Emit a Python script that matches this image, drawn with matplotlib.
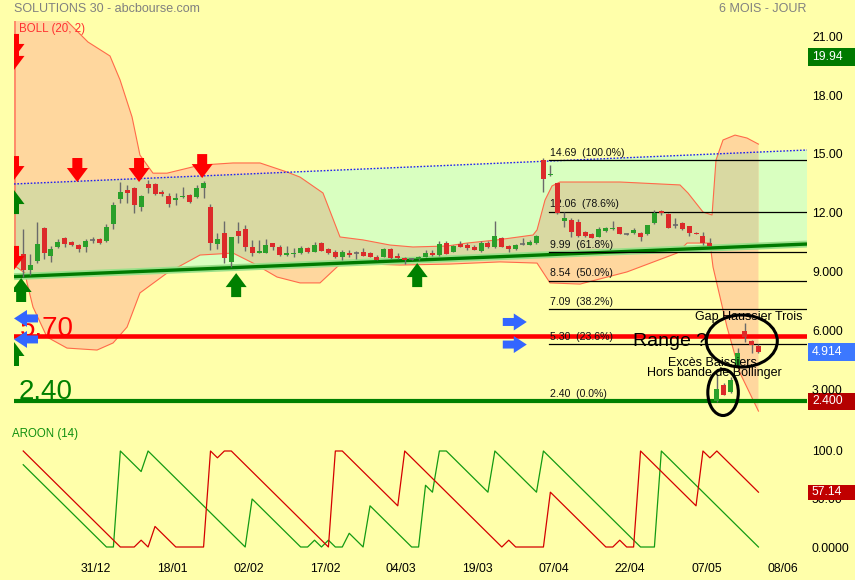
import numpy as np
import matplotlib.pyplot as plt
from matplotlib.patches import Polygon, Ellipse, Rectangle
from matplotlib.transforms import ScaledTranslation, blended_transform_factory

plt.rcParams['font.family'] = ['Liberation Sans', 'DejaVu Sans']

# daily candles, bar 0 = 15/12
opens = [9.90, 9.09, 9.56, 11.21, 9.80, 10.28, 10.70, 10.49, 10.36, 10.24,
         10.62, 10.65, 10.58, 11.43, 12.69, 13.16, 13.25, 12.32, 13.47, 13.47,
         13.08, 12.86, 12.65, 12.79, 12.91, 12.82, 13.28, 12.28, 10.43, 10.95,
         9.51, 11.07, 11.16, 10.24, 9.94, 9.97, 10.45, 10.24, 9.84, 9.92,
         9.94, 10.19, 10.02, 10.45, 10.14, 10.02, 9.73, 9.97, 9.93, 10.02,
         9.94, 9.73, 9.77, 10.16, 9.80, 9.71, 9.66, 9.63, 9.77, 9.97,
         9.84, 10.45, 10.00, 10.40, 10.36, 10.27, 10.07, 10.45, 10.24, 10.70,
         10.31, 10.14, 10.40, 10.36, 10.45, 14.69, 13.95, 13.50, 11.58, 11.63,
         11.55, 11.01, 10.91, 10.78, 11.09, 11.16, 11.26, 10.92, 10.96, 10.96,
         10.91, 11.47, 12.11, 11.93, 11.40, 11.50, 11.33, 10.99, 10.83, 10.45,
         2.40, 3.23, 2.86, 4.16, 5.98, 5.49, 5.21]
highs = [11.16, 9.90, 11.55, 11.26, 10.31, 10.65, 10.78, 10.55, 10.40, 10.67,
         10.75, 10.70, 11.43, 12.55, 13.59, 13.42, 13.33, 12.90, 13.67, 13.50,
         13.15, 13.00, 13.00, 13.30, 12.95, 13.40, 13.60, 12.45, 10.95, 11.58,
         10.75, 11.55, 11.38, 10.62, 10.62, 10.65, 10.45, 10.36, 10.31, 10.19,
         10.31, 10.25, 10.53, 10.50, 10.20, 10.10, 10.10, 10.10, 10.06, 10.19,
         10.02, 9.85, 10.19, 10.19, 9.94, 9.75, 9.72, 9.78, 10.10, 10.10,
         10.54, 10.59, 10.35, 10.58, 10.45, 10.36, 10.54, 10.54, 11.57, 10.75,
         10.36, 10.40, 10.70, 10.62, 10.87, 14.78, 14.43, 13.52, 12.06, 11.72,
         11.68, 11.05, 10.95, 11.26, 11.26, 11.60, 11.30, 10.96, 11.21, 11.00,
         11.40, 12.14, 12.16, 11.98, 11.72, 11.52, 11.35, 11.04, 11.01, 10.73,
         3.83, 3.35, 3.62, 5.10, 6.40, 5.52, 5.32]
lows = [8.75, 8.83, 9.43, 9.63, 9.51, 10.20, 10.24, 10.30, 10.02, 10.02,
        10.44, 10.40, 10.53, 11.16, 12.51, 12.52, 11.97, 12.11, 13.00, 12.90,
        12.86, 12.31, 12.40, 12.77, 12.52, 12.78, 12.74, 10.11, 10.16, 9.46,
        9.26, 10.48, 10.06, 9.80, 9.94, 9.95, 10.11, 9.80, 9.80, 9.77,
        9.90, 9.95, 10.00, 10.05, 9.90, 9.70, 9.60, 9.75, 9.63, 9.80,
        9.75, 9.61, 9.75, 9.63, 9.66, 9.39, 9.58, 9.60, 9.75, 9.82,
        9.82, 9.88, 9.98, 10.24, 10.10, 10.09, 10.02, 10.22, 10.22, 10.25,
        10.02, 10.10, 10.38, 10.34, 10.43, 13.08, 13.87, 11.96, 11.26, 10.75,
        10.75, 10.75, 10.70, 10.76, 11.04, 11.12, 10.90, 10.86, 10.94, 10.58,
        10.89, 11.45, 11.90, 11.22, 11.21, 11.14, 10.83, 10.90, 10.36, 10.29,
        2.38, 2.70, 2.84, 4.14, 5.40, 4.84, 4.84]
closes = [9.09, 9.34, 10.41, 9.94, 10.14, 10.51, 10.41, 10.35, 10.17, 10.56,
          10.63, 10.45, 11.26, 12.40, 13.05, 13.02, 12.40, 12.86, 13.25, 12.94,
          12.94, 12.44, 12.77, 12.87, 12.57, 13.25, 13.50, 10.48, 10.67, 9.68,
          10.75, 10.83, 10.24, 9.97, 10.07, 10.36, 10.24, 9.84, 9.97, 9.97,
          10.21, 10.02, 10.36, 10.07, 9.94, 9.73, 10.02, 9.84, 9.95, 9.82,
          9.77, 9.60, 10.14, 9.68, 9.68, 9.60, 9.64, 9.73, 9.97, 9.84,
          10.40, 9.90, 10.31, 10.26, 10.19, 10.11, 10.45, 10.24, 10.82, 10.27,
          10.14, 10.36, 10.42, 10.53, 10.82, 13.71, 13.99, 12.00, 11.72, 11.04,
          10.83, 10.83, 10.73, 11.16, 11.21, 11.21, 10.92, 10.90, 11.12, 10.78,
          11.38, 11.98, 11.98, 11.24, 11.37, 11.16, 10.99, 10.92, 10.48, 10.31,
          3.01, 2.72, 3.48, 4.87, 5.66, 5.27, 4.914]

date_labels = ['31/12', '18/01', '02/02', '17/02', '04/03', '19/03', '07/04', '22/04', '07/05', '08/06']
date_bars = [11, 22, 33, 44, 55, 66, 77, 88, 99, 110]

# bollinger (20, 2) outline
boll_up_x = [-1.4, 4.5, 6.31, 9.34, 12.51, 13.96, 15.69, 16.83, 18.71, 20.73, 25.49, 30.25, 34.14,
             38.03, 39.91, 43.22, 45.67, 48.99, 52.88, 56.19, 61.10, 63.98, 68.31, 73.50, 74.08,
             75.23, 76.24, 77.39, 86.04, 94.69, 95.84, 98.01, 99.31, 99.88, 100.89, 102.62,
             104.35, 106.0]
boll_up_y = [25.0, 22.6, 21.77, 20.70, 19.99, 18.77, 16.88, 14.94, 14.02, 14.02, 14.43, 14.54, 14.54,
             14.08, 13.82, 13.01, 10.77, 10.62, 10.36, 10.26, 10.31, 10.46, 10.62, 10.87, 11.13,
             12.65, 13.37, 13.57, 13.57, 13.42, 13.01, 12.04, 11.89, 14.69, 15.71, 15.96,
             15.81, 15.50]
boll_lo_x = [-1.4, 0.26, 0.55, 1.41, 3.43, 6.31, 10.64, 12.95, 14.97, 16.83, 20.73, 25.49, 30.25,
             33.13, 36.59, 39.91, 42.79, 45.24, 45.96, 54.32, 61.53, 68.74, 74.08, 75.95, 80.28,
             87.05, 94.26, 95.71, 99.02, 99.45, 101.47, 103.34, 106.0]
boll_lo_y = [9.34, 8.93, 8.43, 7.20, 5.67, 5.11, 5.01, 5.37, 6.18, 7.92, 8.93, 9.85, 9.95,
             9.44, 8.73, 8.43, 8.43, 9.24, 9.44, 9.34, 9.39, 9.50, 9.44, 8.43, 8.37,
             8.99, 9.95, 10.46, 10.46, 9.24, 6.18, 3.84, 1.90]

# trend channel
chan_x = [-1.33, 113.0]
chan_top = [13.47, 15.20]
chan_bot = [8.75, 10.41]

fib_prices = [14.69, 12.06, 9.99, 8.54, 7.09, 5.30, 2.40]
fib_pcts = ['100.0', '78.6', '61.8', '50.0', '38.2', '23.6', '0.0']
fib_start = 75.8

resistance = 5.70
support = 2.40

down_arrows = [(-1.33, 19.89), (-1.33, 19.28), (-1.33, 13.67), (7.8, 13.57), (16.7, 13.57),
               (25.8, 13.77), (-1.33, 9.09)]
up_arrows = [(-1.33, 13.16), (-0.3, 8.68), (-1.33, 5.42), (30.7, 8.93), (56.8, 9.44)]
left_arrows = [(-1.33, 6.62), (-1.33, 5.55)]
right_arrows = [(72.6, 6.44), (72.6, 5.29)]

# aroon (14) turning points
aroon_up_x = [0, 12, 13, 14, 17, 18, 32, 33, 40, 41, 42, 43, 44, 45, 46, 47, 49, 50, 56, 57,
              58, 59, 60, 61, 67, 68, 74, 75, 89, 91, 92, 106]
aroon_up_y = [85.7, 0, 0, 100, 78.6, 100, 0, 50, 0, 0, 7.1, 0, 7.1, 0, 0, 14.3, 0, 42.9, 0, 0,
              64.3, 57.1, 100, 100, 57.1, 100, 57.1, 100, 0, 0, 100, 0]
aroon_dn_x = [0, 14, 16, 17, 18, 19, 22, 26, 27, 28, 29, 30, 44, 45, 46, 54, 55, 69, 70, 71,
              75, 76, 84, 85, 86, 87, 88, 89, 97, 98, 99, 100, 106]
aroon_dn_y = [100, 0, 0, 7.1, 0, 21.4, 0, 0, 100, 92.9, 100, 100, 0, 100, 100, 42.9, 100, 0, 7.1, 0,
              0, 57.1, 0, 0, 7.1, 0, 0, 100, 42.9, 100, 92.9, 100, 57.1]

bg = '#FFFFAA'
fig = plt.figure(figsize=(8.55, 5.8), dpi=100)
fig.patch.set_facecolor(bg)

ax = fig.add_axes([14/855, 1-415/580, 793/855, 394/580])
ax2 = fig.add_axes([14/855, 1-555/580, 793/855, 133/580])
xlim = (-1.33, 113.0)
for a in (ax, ax2):
    a.set_facecolor(bg)
    a.set_xlim(*xlim)
    for s in a.spines.values():
        s.set_visible(False)
ax.set_ylim(1.701, 21.772)
ax2.set_ylim(-8.33, 130.2)

# channel + bollinger band
chan = Polygon(list(zip(chan_x, chan_bot)) + list(zip(chan_x[::-1], chan_top[::-1])),
               closed=True, fc='#D9FFC0', ec='none', zorder=1)
ax.add_patch(chan)
band_pts = list(zip(boll_up_x, boll_up_y)) + list(zip(boll_lo_x[::-1], boll_lo_y[::-1]))
ax.add_patch(Polygon(band_pts, closed=True, fc='#FFD79E', ec='none', zorder=1.2))
overlap = Polygon(band_pts, closed=True, fc='#D9D9A2', ec='none', zorder=1.4)
ax.add_patch(overlap)
overlap.set_clip_path(chan)
ax.plot(boll_up_x, boll_up_y, color='#FF6A4A', lw=0.8, zorder=2)
ax.plot(boll_lo_x, boll_lo_y, color='#FF6A4A', lw=0.8, zorder=2)
ax.plot([-1.22, -1.22], [boll_lo_y[0], 21.772], color='#FF8060', lw=1.2, zorder=2)

ax.plot(chan_x, chan_top, color='#2222EE', lw=1.0, ls=(0, (1.2, 1.2)), zorder=2.5)
ax.plot(chan_x, chan_bot, color='#9BE08A', lw=5, zorder=2.4, solid_capstyle='butt')
ax.plot(chan_x, chan_bot, color='#007A00', lw=2.4, zorder=2.5, solid_capstyle='butt')

# fibonacci retracement
for fp, pct in zip(fib_prices, fib_pcts):
    ax.plot([fib_start, xlim[1]], [fp, fp], color='black', lw=0.9, zorder=3)
    ax.text(fib_start + 0.1, fp + 0.12, f'{fp:.2f}  ({pct}%)', fontsize=7.6, color='#111111',
            va='bottom', ha='left', zorder=3.7)

ax.axhline(resistance, color='#FF0000', lw=3.3, zorder=3.5)
ax.axhline(support, color='#008000', lw=3.0, zorder=3.5)
ax.text(-0.5, resistance + 0.05, '5.70', color='#FF0000', fontsize=20, va='baseline', zorder=3.6)
ax.text(-0.6, support + 0.1, '2.40', color='#008000', fontsize=20, va='baseline', zorder=3.6)

# candles
xs = np.arange(len(opens))
o = np.array(opens); c = np.array(closes)
ax.vlines(xs, lows, highs, color='#6A6A6A', lw=1.0, zorder=4)
up = c > o + 0.04
dn = c < o - 0.04
flat = ~(up | dn)
ax.bar(xs[up], (c - o)[up], bottom=o[up], width=0.72, color='#2AA02A', zorder=4.5)
ax.bar(xs[dn], (c - o)[dn], bottom=o[dn], width=0.72, color='#DC2A2A', zorder=4.5)
ax.hlines(c[flat], xs[flat] - 0.36, xs[flat] + 0.36, color='#6A6A6A', lw=1.2, zorder=4.5)

# signal arrows (shapes in pixels)
down_shape = np.array([(0, 0), (10.5, 14), (5, 14), (5, 24), (-5, 24), (-5, 14), (-10.5, 14)]) / 100.0
up_shape = down_shape * [1, -1]
left_shape = np.array([(0, 0), (13, 8.5), (13, 4), (24, 4), (24, -4), (13, -4), (13, -8.5)]) / 100.0
right_shape = left_shape * [-1, 1]


def arrow(x, y, shape, color):
    tr = fig.dpi_scale_trans + ScaledTranslation(x, y, ax.transData)
    ax.add_patch(Polygon(shape, closed=True, transform=tr, fc=color, ec='none', zorder=6))


for x, y in down_arrows:
    arrow(x, y, down_shape, '#FF0000')
for x, y in up_arrows:
    arrow(x, y, up_shape, '#008000')
for x, y in left_arrows:
    arrow(x, y, left_shape, '#3366FF')
for x, y in right_arrows:
    arrow(x, y, right_shape, '#3366FF')

# annotations
ax.text(87.9, 5.42, 'Range ?', fontsize=14, va='center', ha='left', zorder=7)
ax.text(96.9, 6.54, 'Gap Haussier Trois', fontsize=9, va='baseline', zorder=7)
ax.text(92.9, 4.20, 'Excès Baissiers', fontsize=9, va='baseline', zorder=7)
ax.text(89.9, 3.69, 'Hors bande de Bollinger', fontsize=9, va='baseline', zorder=7)
ax.add_patch(Ellipse((103.6, 5.47), 10.24, 2.65, fill=False, ec='black', lw=2.2, zorder=8))
ax.add_patch(Ellipse((100.9, 2.85), 4.4, 2.35, fill=False, ec='black', lw=2.2, zorder=8, clip_on=False))

# price axis
ax.yaxis.tick_right()
ax.set_yticks([3, 6, 9, 12, 15, 18, 21])
ax.set_yticklabels(['3.000', '6.000', '9.000', '12.00', '15.00', '18.00', '21.00'])
ax.tick_params(axis='y', length=0, pad=3.6, labelsize=8.8)
ax.set_xticks([])

tr_up = blended_transform_factory(ax.transAxes, ax.transData)
for price, txt, col in [(19.94, '19.94', '#007A00'), (4.914, '4.914', '#3C78FF'), (2.40, '2.400', '#B40000')]:
    ax.add_patch(Rectangle((1.0013, price - 0.44), 0.0593, 0.88, transform=tr_up, fc=col, ec='none', clip_on=False))
    ax.text(1.0063, price, txt, transform=tr_up, color='white', fontsize=8.8, va='center', ha='left')

# aroon
ax2.plot(aroon_up_x, aroon_up_y, color='#139A13', lw=0.9)
ax2.plot(aroon_dn_x, aroon_dn_y, color='#D40000', lw=0.9)
ax2.yaxis.tick_right()
ax2.set_yticks([0, 50, 100])
ax2.set_yticklabels(['0.0000', '50.00', '100.0'])
ax2.tick_params(axis='y', length=0, pad=3.6, labelsize=8.8)
ax2.set_xticks([b - 0.5 for b in date_bars])
ax2.set_xticklabels(date_labels)
ax2.tick_params(axis='x', length=0, pad=5.8, labelsize=8.8)
tr_lo = blended_transform_factory(ax2.transAxes, ax2.transData)
ax2.add_patch(Rectangle((1.0013, 57.14 - 7.8), 0.0593, 15.6, transform=tr_lo, fc='#C00000', ec='none',
                        clip_on=False, zorder=5))
ax2.text(1.0063, 57.14, '57.14', transform=tr_lo, color='white', fontsize=8.8, va='center', ha='left', zorder=6)

fig.text(14/855, 1-9/580, 'SOLUTIONS 30 - abcbourse.com', color='#808080', fontsize=9, va='center')
fig.text(806/855, 1-9/580, '6 MOIS - JOUR', color='#808080', fontsize=9, va='center', ha='right')
fig.text(19/855, 1-29/580, 'BOLL (20, 2)', color='#FF3030', fontsize=8.3, va='center')
fig.text(12/855, 1-434/580, 'AROON (14)', color='#109010', fontsize=8.3, va='center')

fig.savefig('out.png', dpi=100, facecolor=bg)
